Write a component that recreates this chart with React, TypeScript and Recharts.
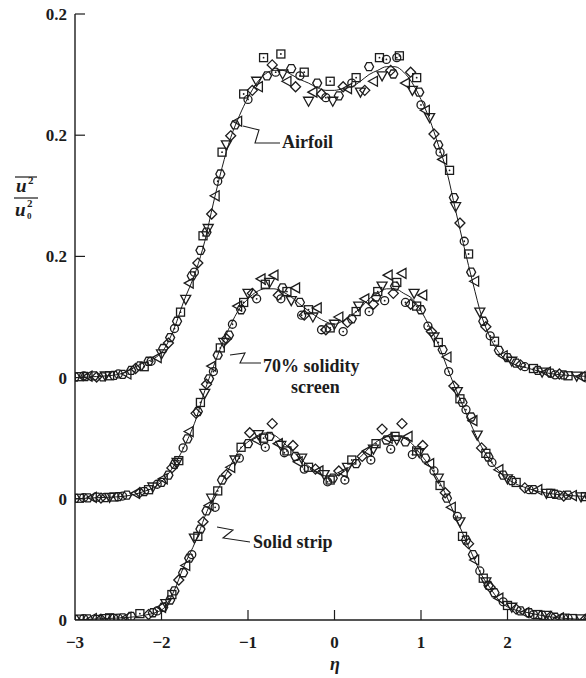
import React from "react";
import { ComposedChart, Line, Scatter, XAxis, YAxis } from "recharts";

// eta positions of the faired curves
const etaGrid = [
  -3, -2.75, -2.5, -2.25, -2, -1.85, -1.75, -1.6, -1.5, -1.4, -1.3, -1.2, -1.1, -1, -0.9, -0.8,
  -0.7, -0.6, -0.5, -0.4, -0.3, -0.2, -0.1, 0, 0.1, 0.2, 0.3, 0.4, 0.5, 0.6, 0.7, 0.8, 0.9, 1,
  1.1, 1.2, 1.3, 1.4, 1.5, 1.6, 1.7, 1.8, 1.9, 2, 2.25, 2.5, 2.75, 3,
];

const airfoilFit = [
  0, 0.0006, 0.0017, 0.0072, 0.0138, 0.0275, 0.041, 0.059, 0.075, 0.096, 0.1155, 0.132, 0.144,
  0.154, 0.162, 0.167, 0.169, 0.169, 0.1667, 0.164, 0.162, 0.1595, 0.158, 0.158, 0.159, 0.16,
  0.163, 0.1667, 0.169, 0.171, 0.171, 0.168, 0.162, 0.153, 0.142, 0.128, 0.113, 0.092, 0.0715,
  0.052, 0.034, 0.022, 0.0138, 0.0094, 0.005, 0.0022, 0.0011, 0.0005,
];

const screenFit = [
  0, 0.0006, 0.0011, 0.0033, 0.0094, 0.0187, 0.0275, 0.044, 0.0594, 0.0726, 0.085, 0.0957,
  0.1045, 0.11, 0.1139, 0.1155, 0.1155, 0.1139, 0.111, 0.107, 0.1034, 0.1, 0.0974, 0.096, 0.098,
  0.101, 0.105, 0.11, 0.113, 0.1155, 0.1155, 0.113, 0.11, 0.1034, 0.0946, 0.085, 0.0726, 0.0605,
  0.0495, 0.0385, 0.0286, 0.0209, 0.0154, 0.011, 0.0055, 0.0028, 0.0017, 0.0011,
];

const stripFit = [
  0, 0.0006, 0.0011, 0.0022, 0.0055, 0.0165, 0.0286, 0.044, 0.0567, 0.0677, 0.0759, 0.0853,
  0.0935, 0.098, 0.1012, 0.1029, 0.1018, 0.098, 0.0935, 0.0891, 0.0847, 0.0814, 0.0792, 0.0792,
  0.0814, 0.0853, 0.0897, 0.0946, 0.0985, 0.1007, 0.1012, 0.1001, 0.0968, 0.0908, 0.0847, 0.077,
  0.0677, 0.0567, 0.0457, 0.0352, 0.0248, 0.0176, 0.011, 0.0072, 0.0039, 0.0017, 0.0006, 0,
];

// measured points [eta, u2/u0^2], one list per symbol
const airfoilSquare = [[-2.95,0.0005],[-2.6,0.001],[-2.2,0.006],[-1.78,0.036],[-1.52,0.078],[-1.3,0.124],[-1.05,0.156],[-0.82,0.176],[-0.62,0.178],[-0.35,0.168],[-0.05,0.163],[0.25,0.165],[0.52,0.176],[0.75,0.177],[0.95,0.165],[1.33,0.114],[1.55,0.068],[1.85,0.02],[2.3,0.005],[2.7,0.001]];
const airfoilTriLeft = [[-2.85,0.0008],[-2.4,0.002],[-2.05,0.011],[-1.68,0.052],[-1.38,0.1],[-1.12,0.141],[-0.88,0.16],[-0.55,0.163],[-0.25,0.157],[0.15,0.159],[0.45,0.163],[0.82,0.162],[1.05,0.147],[1.25,0.12],[1.62,0.053],[1.95,0.012],[2.45,0.003],[2.85,0.0005]];
const airfoilDiamond = [[-2.75,0.0003],[-2.3,0.005],[-1.92,0.019],[-1.58,0.063],[-1.42,0.09],[-1.2,0.133],[-0.95,0.158],[-0.72,0.172],[-0.45,0.16],[-0.15,0.156],[0.1,0.16],[0.35,0.158],[0.65,0.169],[0.88,0.168],[1.15,0.134],[1.45,0.085],[1.75,0.028],[2.15,0.007],[2.6,0.002]];
const airfoilCircle = [[-2.9,0.001],[-2.5,0.002],[-2.12,0.009],[-1.85,0.027],[-1.62,0.058],[-1.35,0.108],[-1.0,0.153],[-0.68,0.168],[-0.4,0.166],[-0.1,0.154],[0.2,0.162],[0.6,0.175],[0.72,0.176],[1.0,0.15],[1.22,0.124],[1.5,0.075],[1.8,0.023],[2.2,0.006],[2.55,0.0015],[2.95,0.0008]];
const airfoilTriDown = [[-2.65,0.001],[-2.0,0.013],[-1.72,0.043],[-1.46,0.082],[-1.25,0.128],[-0.9,0.163],[-0.6,0.167],[-0.3,0.152],[-0.02,0.152],[0.3,0.157],[0.55,0.166],[0.9,0.158],[1.1,0.143],[1.4,0.094],[1.68,0.036],[2.05,0.009],[2.4,0.003],[2.8,0.0008]];
const airfoilHex = [[-3.0,0.0003],[-2.88,0.0006],[-2.78,0.001],[-2.68,0.0004],[-2.55,0.0012],[-2.45,0.0018],[-2.35,0.004],[-2.25,0.0065],[-2.15,0.009],[-1.98,0.016],[-1.9,0.022],[-1.82,0.031],[-1.65,0.056],[-1.55,0.07],[-1.48,0.08],[-1.32,0.112],[-1.15,0.139],[-0.78,0.166],[-0.5,0.17],[-0.2,0.162],[0.05,0.155],[0.4,0.171],[0.68,0.167],[0.98,0.157],[1.2,0.128],[1.38,0.099],[1.58,0.058],[1.72,0.031],[1.9,0.015],[2.0,0.011],[2.1,0.008],[2.35,0.004],[2.5,0.0025],[2.65,0.0015],[2.9,0.0005]];

const screenSquare = [[-2.95,0.0003],[-2.55,0.001],[-2.15,0.005],[-1.8,0.021],[-1.55,0.053],[-1.32,0.083],[-1.05,0.108],[-0.8,0.118],[-0.55,0.114],[-0.3,0.104],[-0.05,0.094],[0.25,0.103],[0.5,0.114],[0.72,0.119],[0.95,0.106],[1.2,0.086],[1.45,0.055],[1.75,0.025],[2.1,0.009],[2.5,0.003],[2.9,0.0012]];
const screenTriLeft = [[-2.8,0.0008],[-2.3,0.003],[-1.98,0.011],[-1.68,0.037],[-1.42,0.073],[-1.12,0.106],[-0.85,0.121],[-0.7,0.123],[-0.45,0.116],[-0.2,0.105],[0.05,0.1],[0.35,0.11],[0.62,0.123],[0.78,0.124],[1.02,0.112],[1.3,0.078],[1.6,0.043],[1.9,0.016],[2.35,0.005],[2.75,0.0018]];
const screenDiamond = [[-2.7,0.0004],[-2.25,0.0035],[-1.88,0.017],[-1.6,0.047],[-1.48,0.063],[-1.25,0.088],[-0.95,0.113],[-0.65,0.112],[-0.35,0.101],[-0.1,0.093],[0.15,0.097],[0.45,0.107],[0.68,0.113],[0.88,0.107],[1.12,0.092],[1.38,0.062],[1.7,0.028],[2.2,0.006],[2.65,0.0015]];
const screenCircle = [[-2.9,0.0006],[-2.45,0.0015],[-2.05,0.008],[-1.75,0.028],[-1.4,0.07],[-1.18,0.096],[-0.9,0.11],[-0.62,0.11],[-0.38,0.101],[-0.15,0.093],[0.1,0.092],[0.4,0.103],[0.58,0.109],[0.82,0.108],[1.08,0.095],[1.32,0.07],[1.52,0.049],[1.82,0.02],[2.25,0.005],[2.6,0.002],[2.98,0.0011]];
const screenTriDown = [[-2.6,0.0008],[-2.1,0.0065],[-1.82,0.02],[-1.5,0.058],[-1.28,0.086],[-1.0,0.113],[-0.75,0.119],[-0.5,0.109],[-0.25,0.1],[0.0,0.096],[0.28,0.106],[0.55,0.117],[0.92,0.113],[1.15,0.089],[1.42,0.059],[1.65,0.035],[2.0,0.011],[2.45,0.003],[2.85,0.0011]];
const screenHex = [[-3.0,0.0002],[-2.85,0.0005],[-2.75,0.0009],[-2.65,0.0006],[-2.5,0.0012],[-2.4,0.002],[-2.2,0.004],[-2.0,0.009],[-1.92,0.013],[-1.85,0.019],[-1.7,0.033],[-1.58,0.048],[-1.45,0.066],[-1.35,0.079],[-1.22,0.09],[-1.08,0.104],[-0.6,0.116],[-0.4,0.108],[0.2,0.099],[0.48,0.111],[0.7,0.117],[1.0,0.104],[1.25,0.082],[1.48,0.053],[1.58,0.045],[1.78,0.023],[1.95,0.013],[2.05,0.01],[2.3,0.005],[2.55,0.0025],[2.7,0.002],[2.95,0.001]];

const stripSquare = [[-2.95,0.0005],[-2.6,0.0012],[-2.25,0.0035],[-1.88,0.014],[-1.58,0.046],[-1.35,0.071],[-1.08,0.095],[-0.82,0.1],[-0.55,0.093],[-0.3,0.084],[-0.05,0.077],[0.2,0.088],[0.48,0.097],[0.7,0.101],[0.95,0.093],[1.22,0.074],[1.48,0.046],[1.72,0.023],[2.0,0.008],[2.35,0.003],[2.75,0.0008]];
const stripTriLeft = [[-2.8,0.0008],[-2.4,0.0015],[-2.0,0.007],[-1.72,0.03],[-1.45,0.063],[-1.2,0.084],[-0.9,0.099],[-0.65,0.097],[-0.42,0.087],[-0.18,0.082],[0.1,0.081],[0.38,0.093],[0.62,0.1],[0.85,0.101],[1.1,0.086],[1.35,0.062],[1.62,0.033],[1.9,0.012],[2.2,0.004],[2.6,0.0012]];
const stripDiamond = [[-2.7,0.0004],[-2.15,0.003],[-1.8,0.022],[-1.52,0.054],[-1.25,0.08],[-0.98,0.103],[-0.72,0.108],[-0.48,0.096],[-0.22,0.083],[0.05,0.082],[0.32,0.09],[0.55,0.105],[0.78,0.108],[1.02,0.096],[1.28,0.07],[1.55,0.042],[1.8,0.018],[2.1,0.006],[2.5,0.002],[2.9,0.0004]];
const stripCircle = [[-2.9,0.0008],[-2.5,0.001],[-2.05,0.005],[-1.65,0.036],[-1.38,0.062],[-1.1,0.089],[-0.8,0.095],[-0.58,0.092],[-0.35,0.083],[-0.08,0.076],[0.12,0.077],[0.42,0.088],[0.65,0.094],[0.9,0.091],[1.15,0.082],[1.42,0.057],[1.68,0.027],[1.95,0.01],[2.3,0.003],[2.7,0.001],[3.0,0.0004]];
const stripTriDown = [[-2.65,0.0008],[-1.95,0.009],[-1.62,0.045],[-1.42,0.067],[-1.15,0.088],[-0.88,0.102],[-0.62,0.096],[-0.38,0.089],[-0.12,0.08],[0.15,0.084],[0.45,0.094],[0.72,0.099],[0.98,0.092],[1.2,0.078],[1.45,0.054],[1.75,0.021],[2.05,0.007],[2.45,0.0025],[2.85,0.0006]];
const stripHex = [[-3.0,0.0002],[-2.85,0.0006],[-2.75,0.0003],[-2.55,0.0009],[-2.45,0.0012],[-2.35,0.002],[-2.1,0.004],[-1.98,0.007],[-1.9,0.011],[-1.85,0.016],[-1.75,0.026],[-1.68,0.034],[-1.55,0.05],[-1.48,0.06],[-1.3,0.077],[-1.0,0.097],[-0.75,0.101],[-0.45,0.09],[-0.02,0.078],[0.25,0.086],[0.6,0.099],[0.82,0.098],[1.05,0.089],[1.3,0.067],[1.52,0.044],[1.6,0.036],[1.78,0.019],[1.85,0.015],[2.15,0.005],[2.25,0.004],[2.4,0.0025],[2.55,0.0015],[2.65,0.001],[2.95,0.0003]];

// each curve is shifted up by 1/15 on the shared axis
const stripOffset = 0;
const screenOffset = 1 / 15;
const airfoilOffset = 2 / 15;

const yTickValues = [0, 1 / 15, 2 / 15, 0.2, 0.2 + 1 / 15, 0.2 + 2 / 15];
const yTickLabels = ["0", "0", "0", "0.2", "0.2", "0.2"];
const xTickValues = [-3, -2, -1, 0, 1, 2, 3];
const xTickLabels = ["−3", "−2", "−1", "0", "1", "2", ""];

const SERIF = "'Liberation Serif', 'Times New Roman', 'DejaVu Serif', serif";
const INK = "#1c1c1c";

const toLine = (vals: number[], off: number) => etaGrid.map((eta, i) => ({ eta, v: vals[i] + off }));
const toPts = (pts: number[][], off: number) => pts.map(([eta, v]) => ({ eta, v: v + off }));

function Marker({ cx, cy, kind }: any) {
  if (cx == null || cy == null) return null;
  const s = { fill: "none", stroke: INK, strokeWidth: 1.3 };
  if (kind === "sq")
    return (
      <g>
        <rect x={cx - 4} y={cy - 4} width={8} height={8} {...s} />
        <circle cx={cx} cy={cy} r={0.9} fill={INK} />
      </g>
    );
  if (kind === "tl") return <polygon points={`${cx - 5},${cy} ${cx + 4},${cy - 5} ${cx + 4},${cy + 5}`} {...s} />;
  if (kind === "dm") return <polygon points={`${cx},${cy - 5} ${cx + 5},${cy} ${cx},${cy + 5} ${cx - 5},${cy}`} {...s} />;
  if (kind === "td") return <polygon points={`${cx - 5},${cy - 4} ${cx + 5},${cy - 4} ${cx},${cy + 5}`} {...s} />;
  if (kind === "hx")
    return (
      <polygon
        points={`${cx - 4.5},${cy} ${cx - 2.3},${cy - 4} ${cx + 2.3},${cy - 4} ${cx + 4.5},${cy} ${cx + 2.3},${cy + 4} ${cx - 2.3},${cy + 4}`}
        {...s}
      />
    );
  return (
    <g>
      <circle cx={cx} cy={cy} r={4} {...s} />
      <circle cx={cx} cy={cy} r={0.9} fill={INK} />
    </g>
  );
}

const BottomTick = (props: any) => {
  const { x, y, payload, index } = props;
  const inner = payload.value > -3 && payload.value < 3;
  return (
    <g>
      {inner && <line x1={x} x2={x} y1={y} y2={y - 10} stroke={INK} strokeWidth={1.2} />}
      <text x={x} y={y + 28} textAnchor="middle" style={{ fontFamily: SERIF }} fontSize={17} fontWeight={700} fill={INK}>
        {xTickLabels[index]}
      </text>
    </g>
  );
};

const TopTick = (props: any) => {
  const { x, y, payload } = props;
  if (payload.value <= -3 || payload.value >= 3) return <g />;
  return <line x1={x} x2={x} y1={y} y2={y + 10} stroke={INK} strokeWidth={1.2} />;
};

const LeftTick = (props: any) => {
  const { x, y, index } = props;
  return (
    <g>
      {index > 0 && <line x1={x} x2={x + 10} y1={y} y2={y} stroke={INK} strokeWidth={1.2} />}
      <text x={x - 8} y={y + 6} textAnchor="end" style={{ fontFamily: SERIF }} fontSize={17} fontWeight={700} fill={INK}>
        {yTickLabels[index]}
      </text>
    </g>
  );
};

const RightTick = (props: any) => {
  const { x, y, index } = props;
  if (index === 0) return <g />;
  return <line x1={x} x2={x - 10} y1={y} y2={y} stroke={INK} strokeWidth={1.2} />;
};

const curves = [
  { fit: airfoilFit, off: airfoilOffset, marks: [airfoilSquare, airfoilTriLeft, airfoilDiamond, airfoilCircle, airfoilTriDown, airfoilHex] },
  { fit: screenFit, off: screenOffset, marks: [screenSquare, screenTriLeft, screenDiamond, screenCircle, screenTriDown, screenHex] },
  { fit: stripFit, off: stripOffset, marks: [stripSquare, stripTriLeft, stripDiamond, stripCircle, stripTriDown, stripHex] },
];
const markKinds = ["sq", "tl", "dm", "ci", "td", "hx"];

export default function App() {
  return (
    <div style={{ position: "absolute", left: 0, top: 0, width: 586, height: 678, overflow: "hidden", background: "#fff" }}>
      <ComposedChart width={600} height={678} margin={{ top: 14, right: 6, bottom: 18, left: 0 }}>
        <XAxis
          dataKey="eta"
          type="number"
          domain={[-3, 3]}
          ticks={xTickValues}
          interval={0}
          allowDataOverflow
          height={40}
          tickSize={0}
          tickMargin={0}
          tick={BottomTick}
          axisLine={{ stroke: INK, strokeWidth: 1.4 }}
        />
        <XAxis
          xAxisId="top"
          orientation="top"
          dataKey="eta"
          type="number"
          domain={[-3, 3]}
          ticks={xTickValues}
          interval={0}
          height={0}
          tickSize={0}
          tickMargin={0}
          tick={TopTick}
          axisLine={{ stroke: INK, strokeWidth: 1.4 }}
        />
        <YAxis
          dataKey="v"
          type="number"
          domain={[0, 1 / 3]}
          ticks={yTickValues}
          interval={0}
          allowDataOverflow
          width={75}
          tickSize={0}
          tickMargin={0}
          tick={LeftTick}
          axisLine={{ stroke: INK, strokeWidth: 1.4 }}
        />
        <YAxis
          yAxisId="right"
          orientation="right"
          type="number"
          domain={[0, 1 / 3]}
          ticks={yTickValues}
          interval={0}
          width={0}
          tickSize={0}
          tickMargin={0}
          tick={RightTick}
          axisLine={{ stroke: INK, strokeWidth: 1.4 }}
        />
        {curves.map((c, ci) => (
          <Line
            key={`fit-${ci}`}
            data={toLine(c.fit, c.off)}
            dataKey="v"
            type="monotone"
            stroke={INK}
            strokeWidth={1}
            dot={false}
            isAnimationActive={false}
          />
        ))}
        {curves.map((c, ci) =>
          c.marks.map((pts, mi) => (
            <Scatter
              key={`pts-${ci}-${mi}`}
              data={toPts(pts, c.off)}
              dataKey="v"
              isAnimationActive={false}
              shape={(p: any) => <Marker cx={p.cx} cy={p.cy} kind={markKinds[mi]} />}
            />
          ))
        )}
      </ComposedChart>
      <svg width={586} height={678} style={{ position: "absolute", left: 0, top: 0, pointerEvents: "none" }}>
        <g fill="none" stroke={INK} strokeWidth={1.1}>
          <polyline points="243,126 259,130 255,143 280,143" />
          <polyline points="230,355 245,353 240,363 261,363" />
          <polyline points="217,527 233,530 223,538 250,542" />
        </g>
        <g style={{ fontFamily: SERIF }} fill={INK} fontWeight={700}>
          <text x={282} y={148} fontSize={18}>Airfoil</text>
          <text x={263} y={372} fontSize={18}>70% solidity</text>
          <text x={291} y={393} fontSize={18}>screen</text>
          <text x={253} y={548} fontSize={18}>Solid strip</text>
          <text x={335} y={670} fontSize={18} fontStyle="italic" textAnchor="middle">η</text>
        </g>
        <g style={{ fontFamily: SERIF }} fill={INK} fontWeight={700} fontStyle="italic">
          <line x1={15} x2={37} y1={177} y2={177} stroke={INK} strokeWidth={1.2} />
          <text x={16} y={192} fontSize={19}>u</text>
          <text x={28} y={184} fontSize={11} fontStyle="normal">2</text>
          <line x1={14} x2={38} y1={198} y2={198} stroke={INK} strokeWidth={1.2} />
          <text x={15} y={216} fontSize={19}>u</text>
          <text x={27} y={207} fontSize={11} fontStyle="normal">2</text>
          <text x={27} y={219} fontSize={9} fontStyle="normal">0</text>
        </g>
      </svg>
    </div>
  );
}
